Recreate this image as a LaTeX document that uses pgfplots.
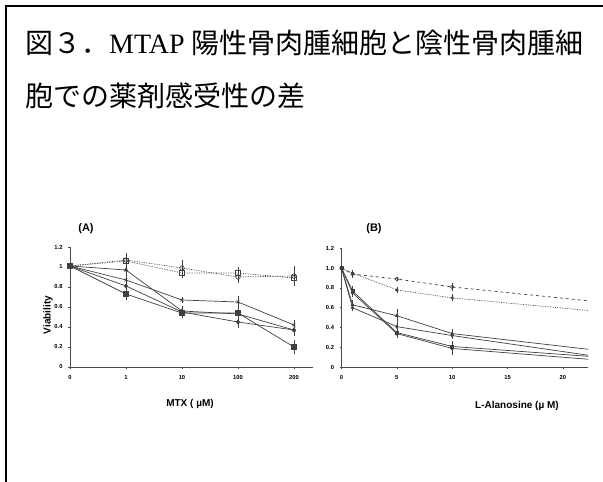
\documentclass[border=0pt]{standalone}
\usepackage{fontspec}
\setmainfont{Liberation Sans}
\newfontfamily\cjk{Noto Sans CJK JP}
\newfontfamily\lserif{Liberation Serif}
\usepackage{pgfplots}
\pgfplotsset{compat=1.18}
\pgfplotsset{
  panel/.style={
    scale only axis, anchor=south west,
    axis lines*=left, axis line style={-, black!70, line width=0.8bp},
    tick align=outside, major tick length=2bp, tick style={black!70, line width=0.6bp},
    ymin=0, ymax=1.2, ytick={0,0.2,0.4,0.6,0.8,1,1.2},
    ticklabel style={font=\fontsize{5.8bp}{6bp}\selectfont\bfseries},
    xticklabel style={yshift=-3bp},
    yticklabel style={xshift=-2bp},
    every axis plot/.append style={line width=0.7bp, black!75},
    error bars/error bar style={solid, line width=0.5bp},
    error bars/error mark options={solid, mark size=1.4bp, line width=0.5bp},
  },
}
\begin{document}
\begin{tikzpicture}
\path[use as bounding box] (0,0) rectangle (603bp,482bp);
\draw[line width=1.6bp] (6bp,0) -- (6bp,476bp) -- (603bp,476bp);
\node[anchor=base west, inner sep=0] at (25bp,428bp) {\fontsize{28bp}{30bp}\selectfont\cjk 図３．\lserif MTAP \cjk 陽性骨肉腫細胞と陰性骨肉腫細};
\node[anchor=base west, inner sep=0] at (25bp,375bp) {\fontsize{28bp}{30bp}\selectfont\cjk 胞での薬剤感受性の差};

% Panel A
\begin{axis}[panel,
  at={(70bp,115bp)}, width=243bp, height=120bp,
  xmin=0, xmax=4.34, xtick={0,1,2,3,4}, xticklabels={0,1,10,100,200},
  yticklabels={0,0.2,0.4,0.6,0.8,1,1.2},
  clip=false]
\addplot[densely dotted, mark=square, mark size=2.3bp, mark options={solid, fill=white},
  error bars/.cd, y dir=both, y explicit] coordinates {
  (0,1.01) +- (0,0.02) (1,1.06) +- (0,0.06) (2,0.94) +- (0,0.04) (3,0.94) +- (0,0.05) (4,0.89) +- (0,0.05)};
\addplot[densely dotted, mark=o, mark size=2.3bp, mark options={solid, fill=white},
  error bars/.cd, y dir=both, y explicit] coordinates {
  (0,1.01) +- (0,0.02) (1,1.07) +- (0,0.06) (2,0.99) +- (0,0.07) (3,0.90) +- (0,0.05) (4,0.91) +- (0,0.09)};
\addplot[mark=triangle*, mark size=2bp,
  error bars/.cd, y dir=both, y explicit] coordinates {
  (0,1.01) +- (0,0.02) (1,0.97) +- (0,0.04) (2,0.56) +- (0,0.04) (3,0.53) +- (0,0.05) (4,0.37) +- (0,0.04)};
\addplot[mark=x, mark size=2bp,
  error bars/.cd, y dir=both, y explicit] coordinates {
  (0,1.01) +- (0,0.02) (1,0.87) +- (0,0.04) (2,0.67) +- (0,0.02) (3,0.65) +- (0,0.05) (4,0.42) +- (0,0.04)};
\addplot[mark=diamond*, mark size=2bp,
  error bars/.cd, y dir=both, y explicit] coordinates {
  (0,1.01) +- (0,0.02) (1,0.81) +- (0,0.05) (2,0.55) +- (0,0.03) (3,0.45) +- (0,0.05) (4,0.37) +- (0,0.05)};
\addplot[mark=square*, mark size=2.2bp,
  error bars/.cd, y dir=both, y explicit] coordinates {
  (0,1.01) +- (0,0.02) (1,0.73) +- (0,0.05) (2,0.54) +- (0,0.04) (3,0.54) +- (0,0.04) (4,0.20) +- (0,0.06)};
\end{axis}

% Panel B
\begin{axis}[panel,
  at={(341.5bp,114.7bp)}, width=246.5bp, height=119bp,
  xmin=0, xmax=22.27, xtick={0,5,10,15,20}, xticklabels={0,5,10,15,20},
  yticklabels={0,0.2,0.4,0.6,0.8,1.0,1.2}]
\addplot[dashed, mark=o, mark size=1.8bp, mark options={solid, fill=white},
  error bars/.cd, y dir=both, y explicit] coordinates {
  (0,1.0) +- (0,0.01) (1,0.94) +- (0,0.03) (5,0.89) +- (0,0.01) (10,0.81) +- (0,0.03) (25,0.64)};
\addplot[densely dotted, mark=asterisk, mark size=1.6bp, mark options={solid},
  error bars/.cd, y dir=both, y explicit] coordinates {
  (0,1.0) +- (0,0.01) (1,0.95) +- (0,0.01) (5,0.78) +- (0,0.02) (10,0.70) +- (0,0.02) (25,0.545)};
\addplot[mark=triangle*, mark size=1.6bp,
  error bars/.cd, y dir=both, y explicit] coordinates {
  (0,1.0) +- (0,0.01) (1,0.63) +- (0,0.03) (5,0.52) +- (0,0.05) (10,0.34) +- (0,0.03) (25,0.147)};
\addplot[mark=diamond*, mark size=1.6bp,
  error bars/.cd, y dir=both, y explicit] coordinates {
  (0,1.0) +- (0,0.01) (1,0.60) +- (0,0.02) (5,0.41) +- (0,0.04) (10,0.32) +- (0,0.02) (25,0.078)};
\addplot[mark=square*, mark size=1.6bp,
  error bars/.cd, y dir=both, y explicit] coordinates {
  (0,1.0) +- (0,0.01) (1,0.77) +- (0,0.04) (5,0.35) +- (0,0.04) (10,0.21) +- (0,0.04) (25,0.089)};
\addplot[mark=*, mark size=1.6bp,
  error bars/.cd, y dir=both, y explicit] coordinates {
  (0,1.0) +- (0,0.01) (1,0.75) +- (0,0.03) (5,0.34) +- (0,0.03) (10,0.19) +- (0,0.05) (25,0.057)};
\end{axis}

\node[font=\fontsize{11bp}{12bp}\selectfont\bfseries] at (86bp,253bp) {(A)};
\node[font=\fontsize{11bp}{12bp}\selectfont\bfseries] at (374bp,253bp) {(B)};
\node[rotate=90, font=\fontsize{10bp}{11bp}\selectfont\bfseries] at (48bp,167bp) {Viability};
\node[font=\fontsize{10bp}{11bp}\selectfont\bfseries] at (190bp,78bp) {MTX ( µM)};
\node[font=\fontsize{10bp}{11bp}\selectfont\bfseries] at (517bp,76bp) {L-Alanosine (µ M)};
\end{tikzpicture}
\end{document}
